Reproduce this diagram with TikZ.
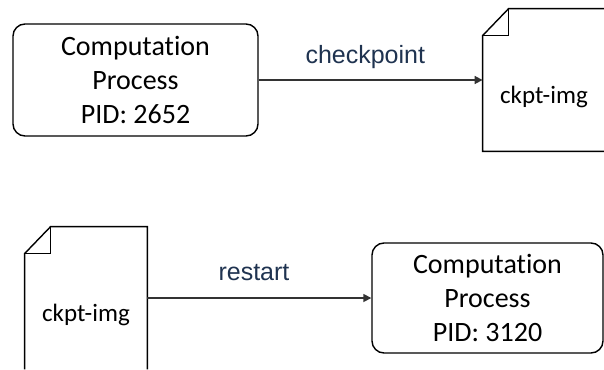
\documentclass[tikz,border=0pt]{standalone}
\usepackage{fontspec}
\setmainfont{Carlito}[Ligatures=NoCommon]
\newfontfamily\labelfont{Liberation Sans}
\usetikzlibrary{arrows.meta}

\definecolor{labelblue}{HTML}{1F3350}
\definecolor{flowgray}{HTML}{333333}

\tikzset{
    procbox/.style={draw, rounded corners=6pt, line width=0.7pt, align=center,
        minimum height=56pt, inner sep=0pt, font=\fontsize{14}{17}\selectfont},
    imgframe/.style={minimum width=61pt, minimum height=71pt, inner sep=0pt},
    imgtext/.style={font=\fontsize{12.5}{15}\selectfont},
    flow/.style={draw=flowgray, line width=0.8pt, -{Triangle[length=4pt, width=4pt]}},
    flowlabel/.style={text=labelblue, inner sep=0pt, font=\labelfont\fontsize{12.5}{15}\selectfont},
}

% outline of a page with a folded corner, #2 closes it if needed
\newcommand{\imgoutline}[2]{%
    \draw[line width=0.7pt] (#1.south west) -- ([yshift=-13.5pt]#1.north west)
        -- ([xshift=13pt]#1.north west) -- (#1.north east) -- (#1.south east) #2;
    \draw[line width=0.7pt] ([yshift=-13.5pt]#1.north west) -| ([xshift=13pt]#1.north west);
}

\begin{document}
\begin{tikzpicture}[x=0.5pt, y=-0.5pt]
    \useasboundingbox (0, 0) rectangle (604, 369);

    \def\ytop{80};
    \def\ybot{298};

    % checkpoint
    \node[procbox, minimum width=122.5pt] (proc1) at (135.5, \ytop) {Computation\\Process\\PID: 2652};
    \node[imgframe] (img1) at (544, \ytop) {};
    \imgoutline{img1}{-- cycle}
    \node[imgtext] (img1txt) at ([yshift=-8.5pt]img1.center) {ckpt-img};
    \draw[flow] (proc1) -- (img1)
        node[flowlabel, pos=0.476, yshift=11.5pt] (cklabel) {checkpoint};

    % restart
    \node[imgframe] (img2) at (86, \ybot) {};
    \imgoutline{img2}{}
    \node[imgtext] (img2txt) at ([yshift=-8.5pt]img2.center) {ckpt-img};
    \node[procbox, minimum width=115.5pt, minimum height=55pt] (proc2) at (487.5, \ybot) {Computation\\Process\\PID: 3120};
    \draw[flow] (img2) -- (proc2)
        node[flowlabel, pos=0.476, yshift=12.5pt] (rslabel) {restart};

\end{tikzpicture}
\end{document}
